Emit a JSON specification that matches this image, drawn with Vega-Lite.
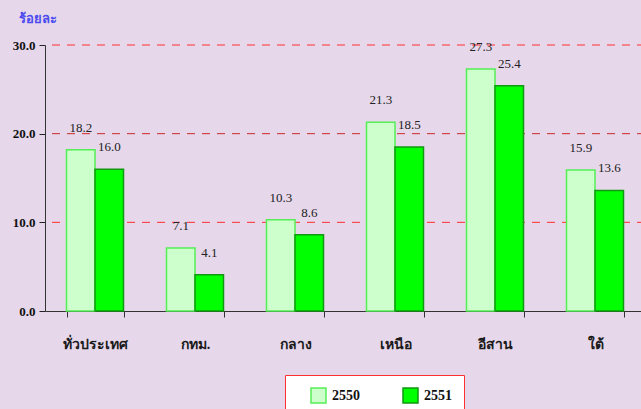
{
  "$schema": "https://vega.github.io/schema/vega-lite/v6.json",
  "width": 600,
  "height": 266,
  "autosize": {"type": "none"},
  "padding": {"left": 45, "top": 45, "right": 0, "bottom": 98},
  "background": "#e6d7ea",
  "config": {"view": {"stroke": null}, "font": "Liberation Serif"},
  "datasets": {
    "bars": [
      {"region": "ทั่วประเทศ", "year": "2550", "value": 18.2},
      {"region": "ทั่วประเทศ", "year": "2551", "value": 16.0},
      {"region": "กทม.", "year": "2550", "value": 7.1},
      {"region": "กทม.", "year": "2551", "value": 4.1},
      {"region": "กลาง", "year": "2550", "value": 10.3},
      {"region": "กลาง", "year": "2551", "value": 8.6},
      {"region": "เหนือ", "year": "2550", "value": 21.3},
      {"region": "เหนือ", "year": "2551", "value": 18.5},
      {"region": "อีสาน", "year": "2550", "value": 27.3},
      {"region": "อีสาน", "year": "2551", "value": 25.4},
      {"region": "ใต้", "year": "2550", "value": 15.9},
      {"region": "ใต้", "year": "2551", "value": 13.6}
    ],
    "grid": [
      {"value": 10, "kind": "a"},
      {"value": 20, "kind": "b"},
      {"value": 30, "kind": "a"}
    ]
  },
  "layer": [
    {
      "data": {"name": "grid"},
      "mark": {"type": "rule", "strokeDash": [8, 7], "strokeWidth": 1},
      "encoding": {
        "y": {"field": "value", "type": "quantitative"},
        "color": {
          "field": "kind",
          "type": "nominal",
          "scale": {"domain": ["a", "b"], "range": ["#ff3030", "#cc2a2a"]},
          "legend": null
        }
      }
    },
    {
      "data": {"name": "bars"},
      "encoding": {
        "x": {
          "field": "region",
          "type": "nominal",
          "sort": ["ทั่วประเทศ", "กทม.", "กลาง", "เหนือ", "อีสาน", "ใต้"],
          "scale": {"paddingInner": 0.43, "paddingOuter": 0.215},
          "axis": {
            "title": null,
            "labelAngle": 0,
            "tickBand": "extent",
            "labelPadding": 20,
            "labelFontWeight": "bold",
            "labelFontSize": 14,
            "labelColor": "#1a1a1a",
            "domainColor": "#333333",
            "tickColor": "#333333",
            "tickSize": 6
          }
        },
        "xOffset": {"field": "year", "type": "nominal", "scale": {"paddingInner": 0}},
        "y": {
          "field": "value",
          "type": "quantitative",
          "scale": {"domain": [0, 30], "nice": false},
          "axis": {
            "title": "ร้อยละ",
            "titleAngle": 0,
            "titleX": -27,
            "titleY": -27,
            "titleAlign": "left",
            "titleBaseline": "middle",
            "titleColor": "#4b4bf0",
            "titleFontSize": 13,
            "titleFontWeight": "bold",
            "values": [0, 10, 20, 30],
            "format": ".1f",
            "labelFontWeight": "bold",
            "labelFontSize": 13,
            "labelColor": "#111111",
            "labelPadding": 4,
            "tickColor": "#222222",
            "tickSize": 6,
            "domainColor": "#333333",
            "grid": false
          }
        }
      },
      "layer": [
        {
          "mark": {"type": "bar", "strokeWidth": 1.5},
          "encoding": {
            "fill": {
              "field": "year",
              "type": "nominal",
              "scale": {"domain": ["2550", "2551"], "range": ["#ccffcc", "#00ff00"]},
              "legend": {
                "title": null,
                "orient": "none",
                "direction": "horizontal",
                "legendX": 240,
                "legendY": 330,
                "fillColor": "#ffffff",
                "strokeColor": "#ff3030",
                "padding": 12,
                "symbolType": "square",
                "symbolSize": 225,
                "symbolStrokeWidth": 1.5,
                "symbolOffset": 13,
                "labelFontSize": 14,
                "labelFontWeight": "bold",
                "labelColor": "#111111",
                "labelOffset": 5,
                "columnPadding": 29
              }
            },
            "stroke": {
              "field": "year",
              "type": "nominal",
              "scale": {"domain": ["2550", "2551"], "range": ["#55ee55", "#119911"]},
              "legend": null
            }
          }
        },
        {
          "mark": {"type": "text", "baseline": "bottom", "dy": -15, "fontSize": 13, "color": "#222222"},
          "encoding": {"text": {"field": "value", "type": "quantitative", "format": ".1f"}}
        }
      ]
    }
  ],
  "resolve": {"scale": {"color": "independent"}}
}
